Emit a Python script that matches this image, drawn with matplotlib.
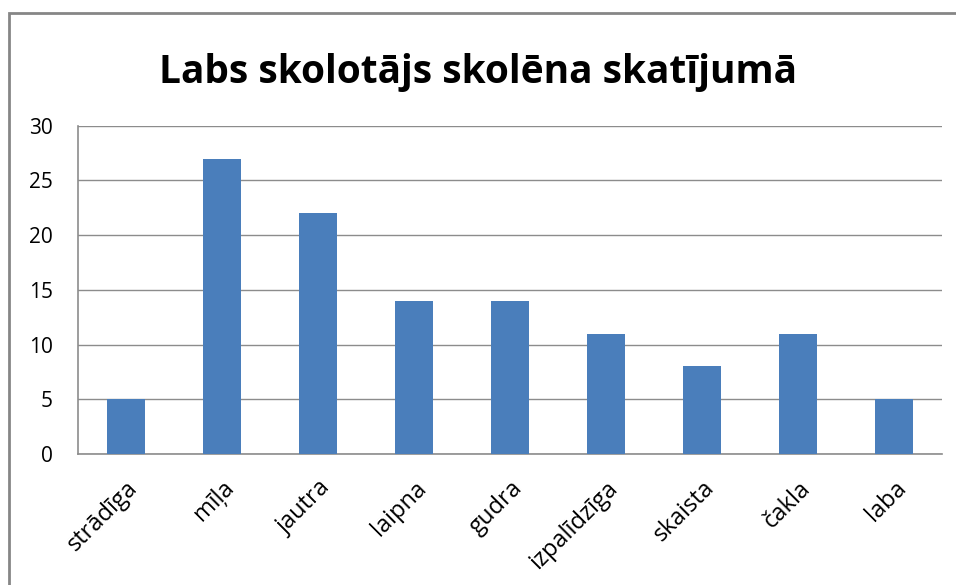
import matplotlib.pyplot as plt
from matplotlib.patches import Rectangle

categories = ['strādīga', 'mīļa', 'jautra', 'laipna', 'gudra',
              'izpalīdzīga', 'skaista', 'čakla', 'laba']
values = [5, 27, 22, 14, 14, 11, 8, 11, 5]
yticks = [0, 5, 10, 15, 20, 25, 30]

plt.rcParams['font.family'] = ['Open Sans', 'DejaVu Sans']

fig = plt.figure(figsize=(9.56, 5.85), dpi=100)
ax = fig.add_axes([0.0816, 0.224, 0.904, 0.561])

# outer chart frame (partly cut off on the right and bottom)
fig.patches.append(Rectangle((9 / 956, -0.1), 1.2, 1 - 13 / 585 + 0.1,
                             transform=fig.transFigure, fill=False,
                             edgecolor='#868686', linewidth=2))

ax.bar(range(len(values)), values, width=0.4, color='#4a7ebb', zorder=3)
ax.set_xlim(-0.5, len(values) - 0.5)
ax.set_ylim(0, 30)
ax.set_yticks(yticks)
ax.set_xticks(range(len(categories)))
ax.set_xticklabels(categories, rotation=45, ha='right', rotation_mode='anchor')
ax.tick_params(axis='both', length=0, colors='black')
ax.tick_params(axis='x', pad=16, labelsize=17)
ax.tick_params(axis='y', pad=18, labelsize=15)

ax.grid(axis='y', color='#8c8c8c', linewidth=1, zorder=0)
for s in ['top', 'right']:
    ax.spines[s].set_visible(False)
for s in ['left', 'bottom']:
    ax.spines[s].set_color('#8c8c8c')
    ax.spines[s].set_linewidth(1.2)

fig.text(0.5, 1 - 72 / 585, 'Labs skolotājs skolēna skatījumā',
         ha='center', va='center', fontsize=28, fontweight='bold')

fig.savefig('out.png', dpi=100)
